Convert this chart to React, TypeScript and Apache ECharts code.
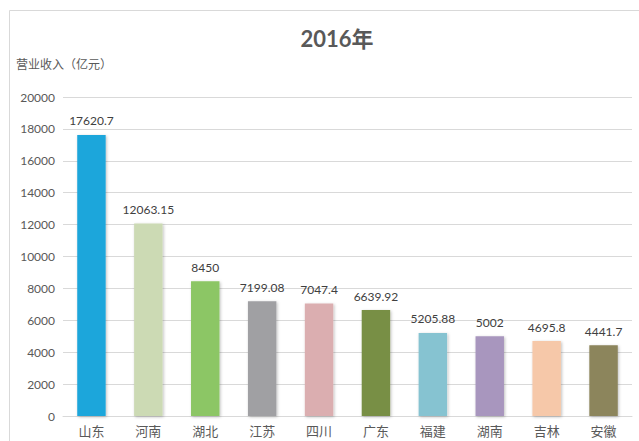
import React, { useEffect, useRef } from "react";
import * as echarts from "echarts";

const categories = ["山东", "河南", "湖北", "江苏", "四川", "广东", "福建", "湖南", "吉林", "安徽"];
const values = [17620.7, 12063.15, 8450, 7199.08, 7047.4, 6639.92, 5205.88, 5002, 4695.8, 4441.7];
const labels = ["17620.7", "12063.15", "8450", "7199.08", "7047.4", "6639.92", "5205.88", "5002", "4695.8", "4441.7"];
const colors = ["#1FA6DB", "#CCDAB4", "#8CC665", "#A0A0A3", "#DBAEB0", "#788F45", "#86C3D1", "#A896BE", "#F6C8A9", "#8C855C"];

const FONT = "Lato, 'Noto Sans CJK SC', sans-serif";

export default function App() {
  const ref = useRef<HTMLDivElement>(null);
  useEffect(() => {
    if (!ref.current) return;
    const chart = echarts.init(ref.current, undefined, { renderer: "svg" });
    chart.setOption({
      animation: false,
      backgroundColor: "#ffffff",
      title: {
        text: "2016年",
        left: 332,
        top: 22,
        textAlign: "center",
        textStyle: { fontSize: 22, fontWeight: "bold", color: "#595959", fontFamily: FONT },
      },
      graphic: [
        {
          type: "rect",
          shape: { x: 9.5, y: 10.5, width: 700, height: 500 },
          style: { fill: "none", stroke: "#d9d9d9", lineWidth: 1 },
          silent: true,
        },
        {
          type: "text",
          left: 16,
          top: 58,
          style: { text: "营业收入（亿元）", fontSize: 12, fill: "#595959", fontFamily: FONT },
        },
      ],
      grid: { left: 63, right: 7, top: 97, bottom: 25 },
      xAxis: {
        type: "category",
        data: categories,
        axisLine: { lineStyle: { color: "#d9d9d9" } },
        axisTick: { show: false },
        axisLabel: { color: "#595959", fontSize: 13, margin: 8, fontFamily: FONT },
      },
      yAxis: {
        type: "value",
        min: 0,
        max: 20000,
        interval: 2000,
        axisLine: { show: false },
        axisTick: { show: false },
        splitLine: { lineStyle: { color: "#d9d9d9" } },
        axisLabel: {
          color: "#595959",
          fontSize: 12,
          margin: 8,
          fontFamily: FONT,
          formatter: (v: number) => String(v),
        },
      },
      series: [
        {
          type: "bar",
          barWidth: "50%",
          data: values.map((v, i) => ({
            value: v,
            itemStyle: {
              color: colors[i],
              shadowColor: "rgba(0,0,0,0.25)",
              shadowBlur: 3,
              shadowOffsetX: 1,
              shadowOffsetY: 1,
            },
          })),
          label: {
            show: true,
            position: "top",
            distance: 8,
            color: "#404040",
            fontSize: 12,
            fontFamily: FONT,
            formatter: (p: any) => labels[p.dataIndex],
          },
        },
      ],
    });
    return () => chart.dispose();
  }, []);
  return <div ref={ref} style={{ position: "fixed", left: 0, top: 0, width: 639, height: 441 }} />;
}
